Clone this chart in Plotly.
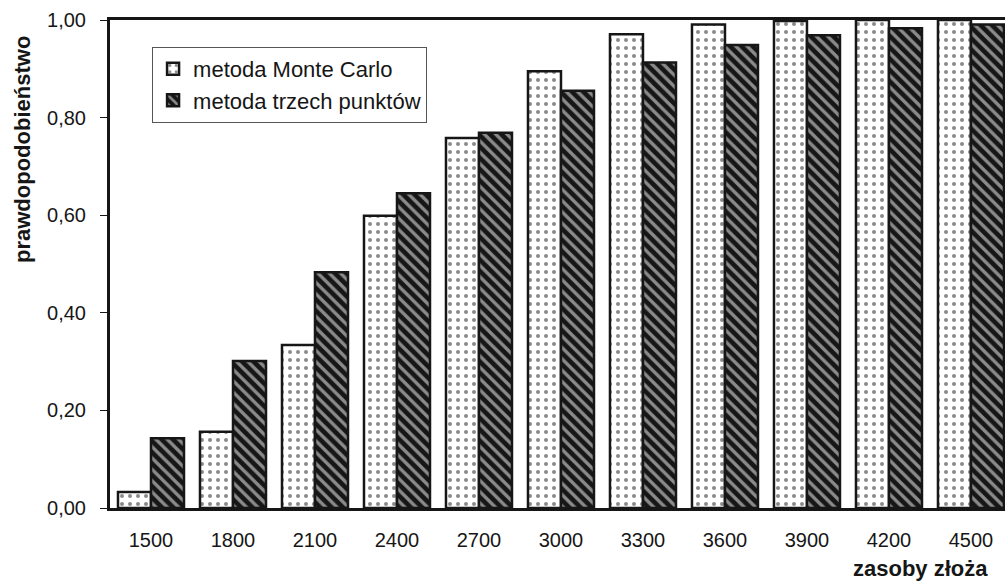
import plotly.graph_objects as go

# Deposit size classes (x axis categories)
zasoby = ["1500", "1800", "2100", "2400", "2700", "3000",
          "3300", "3600", "3900", "4200", "4500"]

# Probability values for each estimation method
monte_carlo = [0.033, 0.156, 0.334, 0.599, 0.758, 0.895,
               0.971, 0.991, 0.998, 1.000, 1.000]
trzy_punkty = [0.143, 0.301, 0.483, 0.645, 0.769, 0.855,
               0.913, 0.949, 0.969, 0.983, 0.991]

INK = "#161616"
FONT = "Liberation Sans, Arial, sans-serif"

fig = go.Figure()

fig.add_trace(go.Bar(
    x=zasoby, y=monte_carlo, name="metoda Monte Carlo",
    marker=dict(
        color="white",
        line=dict(color=INK, width=2.5),
        pattern=dict(shape=".", fgcolor=INK, bgcolor="white",
                     size=8, solidity=0.2),
    ),
))
fig.add_trace(go.Bar(
    x=zasoby, y=trzy_punkty, name="metoda trzech punktów",
    marker=dict(
        color=INK,
        line=dict(color=INK, width=2.5),
        pattern=dict(shape="\\", fgcolor="white", bgcolor=INK,
                     size=8, solidity=0.42),
    ),
))

fig.update_layout(
    width=1005, height=584,
    margin=dict(l=110, r=0, t=20, b=76),
    paper_bgcolor="white", plot_bgcolor="white",
    barmode="group", bargap=0.195, bargroupgap=0.0,
    separators=", ",
    font=dict(family=FONT, color=INK, size=20),
    showlegend=True,
    legend=dict(
        x=0.047, y=0.945, xanchor="left", yanchor="top",
        bgcolor="white", bordercolor="#555", borderwidth=1,
        font=dict(family=FONT, size=22, color=INK),
        tracegroupgap=4, itemwidth=30,
    ),
    xaxis=dict(
        type="category",
        range=[-0.5, 10.415],
        showline=True, linecolor=INK, linewidth=3, mirror=True,
        ticks="", showgrid=False, zeroline=False,
        ticklabelstandoff=12,
        tickfont=dict(family=FONT, size=20, color=INK),
    ),
    yaxis=dict(
        range=[0, 1.0],
        tickvals=[0, 0.2, 0.4, 0.6, 0.8, 1.0],
        tickformat=".2f",
        showline=True, linecolor=INK, linewidth=3,
        ticks="outside", ticklen=7, tickwidth=1, tickcolor=INK,
        showgrid=False, zeroline=False,
        ticklabelstandoff=10,
        tickfont=dict(family=FONT, size=20, color=INK),
    ),
    annotations=[
        dict(text="<b>prawdopodobieństwo</b>", textangle=-90,
             x=22, y=150, xref="paper", yref="paper",
             xanchor="center", yanchor="middle",
             showarrow=False, font=dict(family=FONT, size=22, color=INK)),
        dict(text="<b>zasoby złoża</b>",
             x=990, y=568, xref="paper", yref="paper",
             xanchor="right", yanchor="middle", showarrow=False,
             font=dict(family=FONT, size=22, color=INK)),
    ],
)

# Titles placed in pixel terms, converted to paper fractions of the plot area
pw, ph = 1005 - 110, 584 - 20 - 76
for ann in fig.layout.annotations:
    ann.x = (ann.x - 110) / pw
    ann.y = (584 - 76 - ann.y) / ph

fig.write_html("out.html")
